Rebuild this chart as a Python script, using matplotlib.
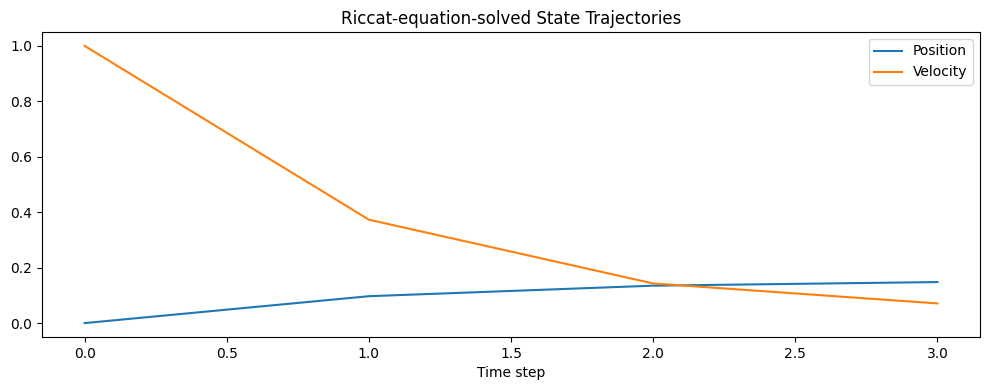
import numpy as np
import matplotlib
matplotlib.use("Agg")
import matplotlib.pyplot as plt

# state trajectories
steps = [0, 1, 2, 3]
position = [0.0, 0.097, 0.135, 0.148]
velocity = [1.0, 0.373, 0.143, 0.071]

plt.figure(figsize=(9.9, 3.9), dpi=100)
plt.plot(steps, position, label='Position')
plt.plot(steps, velocity, label='Velocity')
plt.xlabel('Time step')
plt.title('Riccat-equation-solved State Trajectories')
plt.legend()
plt.subplots_adjust(left=0.0424, right=0.990, bottom=0.136, top=0.918)
plt.savefig('out.png')
